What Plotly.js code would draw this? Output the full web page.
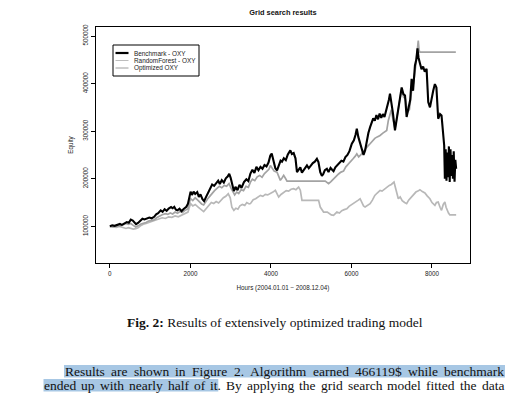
<!DOCTYPE html>
<html>
<head>
<meta charset="utf-8">
<script src="https://cdn.plot.ly/plotly-3.0.1.min.js"></script>
<style>
html,body{margin:0;padding:0;background:#fff;}
#chart{width:519px;height:398px;}
</style>
</head>
<body>
<div id="chart"></div>
<script>
// ---- data ----
const seriesNames = ["Benchmark - OXY", "RandomForest - OXY", "Optimized OXY"];

const hoursBench = [0,60,120,180,250,300,360,420,470,520,570,610,650,700,760,810,860,920,980,1040,1100,1150,1200,1263,1310,1360,1410,1460,1520,1560,1600,1640,1680,1730,1780,1840,1900,1940,1975,2005,2040,2080,2120,2170,2210,2250,2300,2340,2390,2440,2490,2540,2590,2640,2690,2730,2780,2830,2880,2930,2965,3000,3040,3080,3120,3170,3220,3270,3330,3390,3440,3491,3540,3590,3640,3690,3740,3790,3840,3890,3940,3986,4020,4069,4110,4152,4200,4240,4275,4320,4370,4420,4482,4520,4565,4610,4647,4690,4730,4770,4820,4860,4895,4940,4990,5040,5090,5142,5180,5225,5266,5300,5340,5390,5430,5480,5520,5555,5600,5650,5700,5750,5800,5850,5900,5950,6009,6060,6100,6133,6170,6215,6260,6300,6339,6380,6420,6463,6500,6540,6580,6620,6660,6700,6740,6780,6820,6860,6900,6930,6957,6990,7030,7081,7120,7160,7200,7247,7290,7330,7370,7420,7460,7494,7530,7577,7610,7640,7665,7700,7740,7780,7820,7866,7907,7950,7990,8030,8072,8110,8154,8200,8237,8270,8303,8320,8340,8360,8380,8400,8420,8440,8460,8480,8500,8520,8540,8560,8580,8600];
const equityBench = [100000,102000,101000,103500,105000,103000,107000,109000,107500,114000,112000,108000,104500,107000,111000,116000,114500,117000,118500,117000,120000,125000,127500,133500,130500,136000,132500,137500,140500,138000,141000,135000,133500,137000,132000,137000,141000,147500,163000,173000,166000,173000,168000,172000,162000,167000,157000,153000,162000,170000,180000,188000,185000,192000,196000,189000,197000,192000,201000,205000,210500,202000,186000,174000,183000,176000,187000,181000,193000,199000,195000,211000,219000,212000,225000,218000,225000,221000,229000,226000,234000,249000,253000,232000,222000,217600,228000,238000,236000,243000,239000,251000,259600,252000,254000,243000,214000,218000,224000,213000,219000,223000,228000,222000,229000,233000,236000,242000,235000,214000,206000,210000,218000,221000,214000,223000,219000,216000,224000,229000,233000,238000,236000,245500,250000,258000,273600,281000,292000,305000,288000,273600,262000,250000,259600,280000,296000,308500,318000,327000,322000,334000,325000,337000,328000,336000,330000,343000,352000,366000,379000,362000,338000,301600,322000,345000,370000,392000,378000,375000,330000,350000,366000,410000,385000,438000,450000,474000,455000,443000,430000,436000,425000,431000,361000,350000,370000,385000,399000,392000,326000,336000,333000,300000,270000,200000,262000,196000,255000,203000,268000,193000,262000,206000,250000,200000,258000,194000,240000,221000];

const hoursRF = [0,80,160,240,320,400,460,520,580,644,700,760,830,900,980,1060,1140,1220,1300,1380,1460,1540,1620,1700,1780,1860,1940,1975,2005,2060,2120,2200,2260,2330,2400,2460,2520,2580,2640,2700,2760,2820,2880,2940,2990,3030,3080,3130,3180,3230,3290,3350,3400,3460,3491,3560,3620,3680,3739,3800,3860,3920,3986,4050,4110,4150,4193,4250,4317,4380,4440,4500,4565,4620,4688,4730,4771,5184,5225,5270,5308,5400,5450,5500,5555,5600,5638,5700,5760,5820,5885,5940,6000,6060,6120,6170,6215,6260,6300,6339,6400,6463,6520,6580,6640,6710,6760,6820,6876,6940,6990,7057,7090,7130,7164,7210,7260,7320,7371,7420,7480,7536,7600,7650,7700,7760,7824,7880,7948,8000,8040,8072,8110,8154,8200,8237,8280,8320,8350,8378,8410,8443,8600];
const equityRF = [100000,99000,98000,100000,97500,95500,97000,96000,94000,95000,97000,101000,104500,106000,108500,110000,113000,116000,118000,116500,120000,119000,122000,120000,123000,126000,130000,140000,147700,143000,146000,140000,136000,131000,138000,145000,150000,148000,152000,149000,155000,160000,163000,168500,160000,140000,133500,138000,136000,143000,146000,144000,150000,147000,147700,156000,158000,162000,165000,163000,167000,166000,168500,172000,175600,168000,161500,167000,172000,175000,174000,178000,179000,177000,182500,176000,154600,154600,140500,135000,130000,130000,127000,124000,123000,127000,130000,128000,133000,135000,137000,142000,145000,148000,152000,155000,158000,150000,143000,140500,144000,147700,155000,165000,170000,175600,174000,178000,182500,186000,188000,193000,182000,170000,158000,162000,154000,150000,147700,155000,161000,165000,172000,174000,177000,173000,170000,164000,158000,150000,146000,144000,150000,151000,140000,133600,146000,151000,140000,133000,128000,124000,124000];

const hoursOpt = [0,80,160,240,320,400,460,520,580,644,700,760,830,900,960,1040,1100,1160,1220,1300,1380,1440,1500,1560,1620,1680,1740,1800,1860,1940,1975,2005,2060,2120,2170,2220,2280,2330,2377,2430,2480,2540,2600,2660,2720,2780,2840,2900,2960,3000,3050,3100,3150,3200,3260,3320,3380,3440,3491,3540,3600,3660,3720,3780,3840,3900,3950,3986,4030,4080,4152,4200,4234,4280,4317,4360,4400,5349,5390,5432,5490,5555,5620,5680,5740,5803,5860,5920,5968,6040,6090,6133,6180,6230,6298,6350,6400,6462,6520,6580,6640,6710,6780,6840,6876,6916,6957,6990,7030,7081,7130,7180,7220,7247,7290,7340,7390,7440,7494,7540,7600,7640,7659,7680,7700,8592];
const equityOpt = [100000,99000,101000,100500,103000,106000,104000,106000,102000,98600,101000,104500,106500,108000,111000,112600,113500,118000,121000,124500,126700,125000,128000,126000,130000,127500,131000,129000,133000,137000,150000,158000,154000,160000,156000,151000,147000,145000,152000,158000,163000,170000,175000,180000,184000,181000,186000,184000,190000,182000,172000,166000,172000,169000,177000,175000,184000,182000,193000,199000,196000,204000,207000,203000,211000,215000,220000,228000,223000,216000,214000,203000,196600,202000,207000,201000,195000,195000,192000,189600,194000,200000,205000,210000,214000,216000,225000,230000,235000,242000,247000,252600,246000,250000,258000,264000,268000,273600,280000,285000,288000,291000,296000,300000,301600,322600,339000,345000,325000,305000,330000,355000,375000,389000,372000,368000,340000,345000,385000,400000,440000,475000,490600,470000,466119,466119];

const xTicks = [0, 2000, 4000, 6000, 8000];
const yTicks = [100000, 200000, 300000, 400000, 500000];
const yTickText = ["100000", "200000", "300000", "400000", "500000"];

// ---- page text ----
const chartTitle = "Grid search results";
const xTitle = "Hours (2004.01.01 \u2212 2008.12.04)";
const yTitle = "Equity";
const captionText = "<b>Fig. 2:</b> Results of extensively optimized trading model";
const para1 = "Results are shown in Figure 2. Algorithm earned 466119$ while benchmark";
const para2 = "ended up with nearly half of it. By applying the grid search model fitted the data";
const highlightedWords2 = 7; // "ended up with nearly half of it"

// ---- styles ----
const sans = "Liberation Sans, Arial, sans-serif";
const serifName = "Liberation Serif";
const serif = serifName + ", Times New Roman, serif";
const textSize = 13.5;
const colBench = "#000000", colRF = "#b8b8b8", colOpt = "#a3a3a3";
const hl = "#a7c7e4";
const annPad = 2; // annotation inner padding in px

// plot area in pixels: x 96..470, y 27..263
const L = 96, R = 470, T = 27, B = 263;
const px = v => (v - L) / (R - L);
const py = v => (B - v) / (B - T);

const traces = [
  {x: hoursRF, y: equityRF, name: seriesNames[1], type: "scatter", mode: "lines",
   line: {color: colRF, width: 1.7}, showlegend: false},
  {x: hoursOpt, y: equityOpt, name: seriesNames[2], type: "scatter", mode: "lines",
   line: {color: colOpt, width: 1.7}, showlegend: false},
  {x: hoursBench, y: equityBench, name: seriesNames[0], type: "scatter", mode: "lines",
   line: {color: colBench, width: 2.1}, showlegend: false}
];

const legendRows = [53, 60.5, 68];
const legendStyles = [{c: colBench, w: 2.2}, {c: "#bdbdbd", w: 1}, {c: "#9c9c9c", w: 1}];

// text measuring for justified paragraph lines
const ctx = document.createElement("canvas").getContext("2d");
ctx.font = textSize + "px '" + serifName + "'";
const mw = s => ctx.measureText(s).width;
function justify(text, x0, x1) {
  const words = text.split(" ");
  const widths = words.map(mw);
  const total = widths.reduce((a, b) => a + b, 0);
  const gap = (x1 - x0 - total) / (words.length - 1);
  let x = x0;
  return words.map((w, i) => { const o = {w: w, x: x, width: widths[i]}; x += widths[i] + gap; return o; });
}
const line1 = justify(para1, 65, 504);
const line2 = justify(para2, 44, 504);
const hlWord = line2[highlightedWords2 - 1];
const hlEnd2 = hlWord.x + mw(hlWord.w.replace(/\.$/, "")) + 0.5;

const shapes = [
  {type: "rect", xref: "paper", yref: "paper", x0: px(64), x1: px(505), y0: py(377.5), y1: py(365),
   fillcolor: hl, line: {width: 0}, layer: "below"},
  {type: "rect", xref: "paper", yref: "paper", x0: px(43.5), x1: px(hlEnd2), y0: py(391.5), y1: py(379),
   fillcolor: hl, line: {width: 0}, layer: "below"},
  {type: "rect", xref: "paper", yref: "paper", x0: px(113), x1: px(199), y0: py(76), y1: py(45),
   fillcolor: "rgba(255,255,255,0)", line: {color: "#000", width: 1}}
];
legendRows.forEach((r, i) => {
  shapes.push({type: "line", xref: "paper", yref: "paper", x0: px(115.5), x1: px(128.5), y0: py(r), y1: py(r),
    line: {color: legendStyles[i].c, width: legendStyles[i].w}});
});

const annotations = [];
seriesNames.forEach((n, i) => {
  annotations.push({xref: "paper", yref: "paper", x: px(131.5), y: py(legendRows[i]), xanchor: "left", yanchor: "middle",
    text: n, showarrow: false, font: {family: sans, size: 6.4, color: "#222"}});
});
annotations.push(
  {xref: "paper", yref: "paper", x: px(275), y: py(322), xanchor: "center", yanchor: "middle",
   text: captionText, showarrow: false, font: {family: serif, size: textSize, color: "#111"}}
);
[[line1, 371.5], [line2, 385.5]].forEach(([words, yy]) => {
  words.forEach(o => annotations.push({xref: "paper", yref: "paper", x: px(o.x - annPad), y: py(yy),
    xanchor: "left", yanchor: "middle", text: o.w, showarrow: false,
    font: {family: serif, size: textSize, color: "#111"}}));
});

const layout = {
  width: 519, height: 398,
  paper_bgcolor: "#fff", plot_bgcolor: "#fff",
  margin: {l: L, r: 519 - R, t: T, b: 398 - B, pad: 0},
  font: {family: sans, color: "#222"},
  title: {text: "<b>" + chartTitle + "</b>", font: {family: sans, size: 7.4, color: "#111"},
          xref: "paper", x: 0.5, xanchor: "center", yref: "container", y: 1 - 12 / 398, yanchor: "middle"},
  xaxis: {range: [-344, 8944], tickmode: "array", tickvals: xTicks, ticktext: xTicks.map(String),
          ticks: "outside", ticklen: 4, tickwidth: 1, tickcolor: "#000",
          tickfont: {family: sans, size: 6.3, color: "#222"},
          showline: true, mirror: true, linecolor: "#000", linewidth: 1,
          showgrid: false, zeroline: false,
          title: {text: xTitle, font: {family: sans, size: 6.3, color: "#222"}, standoff: 10}},
  yaxis: {range: [22900, 519000], tickmode: "array", tickvals: yTicks, ticktext: yTickText,
          ticks: "outside", ticklen: 4, tickwidth: 1, tickcolor: "#000", tickangle: -90,
          tickfont: {family: sans, size: 6.3, color: "#222"},
          showline: true, mirror: true, linecolor: "#000", linewidth: 1,
          showgrid: false, zeroline: false,
          title: {text: yTitle, font: {family: sans, size: 6.3, color: "#222"}, standoff: 8}},
  shapes: shapes,
  annotations: annotations,
  showlegend: false
};

Plotly.newPlot("chart", traces, layout, {displayModeBar: false, staticPlot: true});
</script>
</body>
</html>
